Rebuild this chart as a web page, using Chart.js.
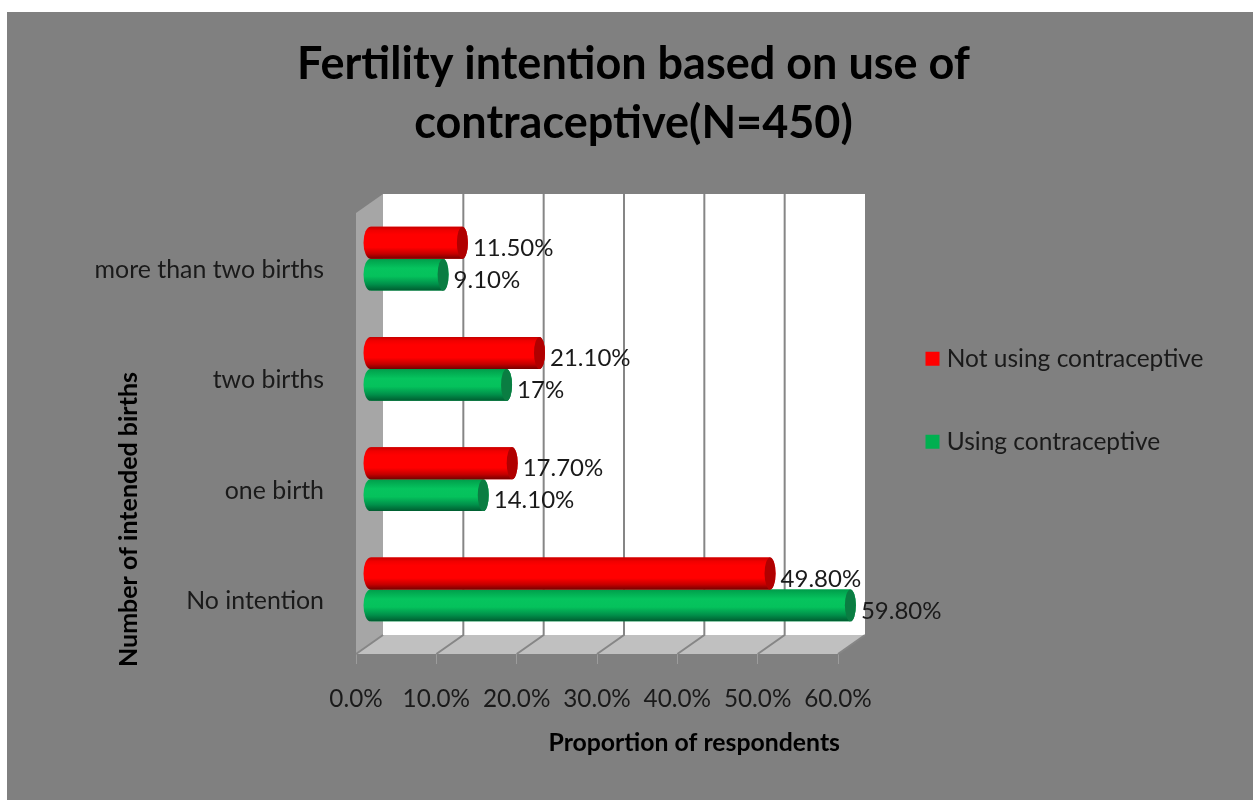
<!DOCTYPE html>
<html>
<head>
<meta charset="utf-8">
<style>html,body{margin:0;padding:0;background:#fff}canvas{display:block}</style>
<script src="https://cdn.jsdelivr.net/npm/chart.js@4/dist/chart.umd.min.js"></script>
</head>
<body>
<canvas id="c" width="1253" height="800"></canvas>
<script>
const categories = ['more than two births', 'two births', 'one birth', 'No intention'];
const notUsing = [11.5, 21.1, 17.7, 49.8];
const using = [9.1, 17, 14.1, 59.8];
const notUsingLabels = ['11.50%', '21.10%', '17.70%', '49.80%'];
const usingLabels = ['9.10%', '17%', '14.10%', '59.80%'];
const seriesNames = ['Not using contraceptive', 'Using contraceptive'];
const titleLines = ['Fertility intention based on use of', 'contraceptive(N=450)'];

const FONT = 'Lato, Carlito, sans-serif';
const INK = '#1a1a1a';
const DEPTH_X = 27, DEPTH_Y = -19;
const BAR_DX = 14, BAR_DY = -9.5, CAP = 5.5, LEFT_CAP = 7;

const STYLES = [
  { cap: '#b00000', stops: [[0,'#c40000'],[.12,'#f00000'],[.25,'#ff0000'],[.65,'#ff0000'],[.85,'#c40000'],[1,'#780000']], labels: notUsingLabels },
  { cap: '#0a7d42', stops: [[0,'#009c4a'],[.3,'#06c45e'],[.55,'#05c25c'],[.8,'#00904a'],[1,'#005c30']], labels: usingLabels }
];

function nudge(obj, method, dx, dy) {
  const f = obj[method];
  obj[method] = function () {
    const c = this.ctx; c.save(); c.translate(dx, dy); f.apply(this, arguments); c.restore();
  };
}

const scene = {
  id: 'scene',
  beforeDraw(chart) {
    const c = chart.ctx;
    c.save();
    c.fillStyle = '#fff'; c.fillRect(0, 0, chart.width, chart.height);
    c.fillStyle = '#808080'; c.fillRect(7, 12, chart.width - 7, chart.height - 12);
    c.restore();
  },
  afterLayout(chart) {
    const t = chart.titleBlock;
    t.left = 14; t.right = 1253;
    const l = chart.legend;
    l.left = 872; l.right = 1253; l.top = 288; l.bottom = 288 + 441;
    const { x, y } = chart.scales;
    if (!chart._nudged) {
      chart._nudged = true;
      nudge(x, 'drawTitle', 2, 8);
      nudge(y, 'drawTitle', 98, 13);
      nudge(y, 'drawLabels', 0, 2);
    }
  },
  beforeDatasetsDraw(chart) {
    const c = chart.ctx, a = chart.chartArea, x = chart.scales.x;
    c.save();
    c.fillStyle = '#fff';
    c.fillRect(a.left + DEPTH_X, a.top + DEPTH_Y, a.right - a.left, a.bottom - a.top);
    c.fillStyle = '#a6a6a6';
    c.beginPath();
    c.moveTo(a.left, a.top); c.lineTo(a.left + DEPTH_X, a.top + DEPTH_Y);
    c.lineTo(a.left + DEPTH_X, a.bottom + DEPTH_Y); c.lineTo(a.left, a.bottom);
    c.closePath(); c.fill();
    c.fillStyle = '#c0c0c0';
    c.beginPath();
    c.moveTo(a.left, a.bottom); c.lineTo(a.left + DEPTH_X, a.bottom + DEPTH_Y);
    c.lineTo(a.right + DEPTH_X, a.bottom + DEPTH_Y); c.lineTo(a.right, a.bottom);
    c.closePath(); c.fill();
    c.strokeStyle = '#868686'; c.lineWidth = 2;
    x.ticks.forEach(tk => {
      const px = x.getPixelForValue(tk.value);
      c.beginPath();
      c.moveTo(px, a.bottom);
      c.lineTo(px + DEPTH_X, a.bottom + DEPTH_Y);
      if (tk.value > 0 && tk.value < 60) c.lineTo(px + DEPTH_X, a.top + DEPTH_Y);
      c.stroke();
    });
    c.restore();
    c.save();
    c.translate(BAR_DX, BAR_DY);
  },
  afterDatasetDraw(chart, args) {
    const c = chart.ctx, st = STYLES[args.index];
    args.meta.data.forEach(el => {
      const p = el.getProps(['x', 'y', 'base', 'height'], true);
      const top = p.y - p.height / 2, bottom = p.y + p.height / 2;
      const g = c.createLinearGradient(0, top, 0, bottom);
      st.stops.forEach(s => g.addColorStop(s[0], s[1]));
      c.save();
      c.fillStyle = g;
      c.beginPath();
      c.moveTo(p.x, top);
      c.lineTo(p.base, top);
      c.ellipse(p.base, p.y, LEFT_CAP, p.height / 2, 0, -Math.PI / 2, -Math.PI * 1.5, true);
      c.lineTo(p.x, bottom);
      c.ellipse(p.x, p.y, CAP, p.height / 2, 0, Math.PI / 2, -Math.PI / 2, true);
      c.closePath();
      c.fill();
      c.fillStyle = st.cap;
      c.beginPath();
      c.ellipse(p.x, p.y, CAP, p.height / 2, 0, 0, Math.PI * 2);
      c.fill();
      c.restore();
    });
  },
  afterDatasetsDraw(chart) {
    const c = chart.ctx;
    c.restore();
    c.save();
    c.font = '24px ' + FONT;
    c.fillStyle = INK;
    c.textAlign = 'left';
    c.textBaseline = 'middle';
    chart.data.datasets.forEach((d, i) => {
      chart.getDatasetMeta(i).data.forEach((el, j) => {
        const p = el.getProps(['x', 'y'], true);
        c.fillText(STYLES[i].labels[j], p.x + BAR_DX + CAP + 5, p.y + BAR_DY + 5.5);
      });
    });
    c.restore();
  }
};

new Chart(document.getElementById('c'), {
  type: 'bar',
  data: {
    labels: categories,
    datasets: [
      { label: seriesNames[0], data: notUsing, backgroundColor: '#ff0000', categoryPercentage: 0.58, barPercentage: 1, clip: false },
      { label: seriesNames[1], data: using, backgroundColor: '#00b050', categoryPercentage: 0.58, barPercentage: 1, clip: false }
    ]
  },
  plugins: [scene],
  options: {
    indexAxis: 'y',
    responsive: false,
    animation: false,
    layout: { padding: { left: 16, right: 415, top: 0, bottom: 50 } },
    plugins: {
      tooltip: { enabled: false },
      title: {
        display: true,
        text: titleLines,
        color: '#000',
        font: { family: FONT, size: 45, weight: 'bold', lineHeight: 59 / 45 },
        padding: { top: 35, bottom: 60 }
      },
      legend: {
        display: true,
        position: 'chartArea',
        align: 'start',
        labels: {
          color: INK,
          font: { family: FONT, size: 24.5 },
          padding: 58.5,
          boxWidth: 4,
          boxHeight: 4,
          generateLabels(chart) {
            return Chart.defaults.plugins.legend.labels.generateLabels(chart).map((it, i) => {
              it.fillStyle = it.strokeStyle = i === 0 ? '#ff0000' : '#00b050';
              it.lineWidth = 10;
              it.lineJoin = 'miter';
              return it;
            });
          }
        }
      }
    },
    scales: {
      x: {
        type: 'linear',
        min: 0,
        max: 60,
        ticks: {
          stepSize: 10,
          maxRotation: 0,
          autoSkip: false,
          padding: 21,
          color: INK,
          font: { family: FONT, size: 24.3 },
          callback: v => v.toFixed(1) + '%'
        },
        grid: { display: true, drawOnChartArea: false, drawTicks: true, tickLength: 10, color: '#9c9c9c' },
        border: { display: false },
        title: {
          display: true,
          text: 'Proportion of respondents',
          align: 'end',
          color: '#000',
          font: { family: FONT, size: 24.8, weight: 'bold' },
          padding: { top: 8, bottom: 0 }
        },
        afterFit(s) { s.height = 96; }
      },
      y: {
        type: 'category',
        ticks: {
          autoSkip: false,
          padding: 24,
          color: INK,
          font: { family: FONT, size: 24.9 }
        },
        grid: { display: false },
        border: { display: false },
        title: {
          display: true,
          text: 'Number of intended births',
          align: 'start',
          color: '#000',
          font: { family: FONT, size: 25, weight: 'bold' },
          padding: 0
        },
        afterFit(s) { s.width = 340; }
      }
    }
  }
});
</script>
</body>
</html>
